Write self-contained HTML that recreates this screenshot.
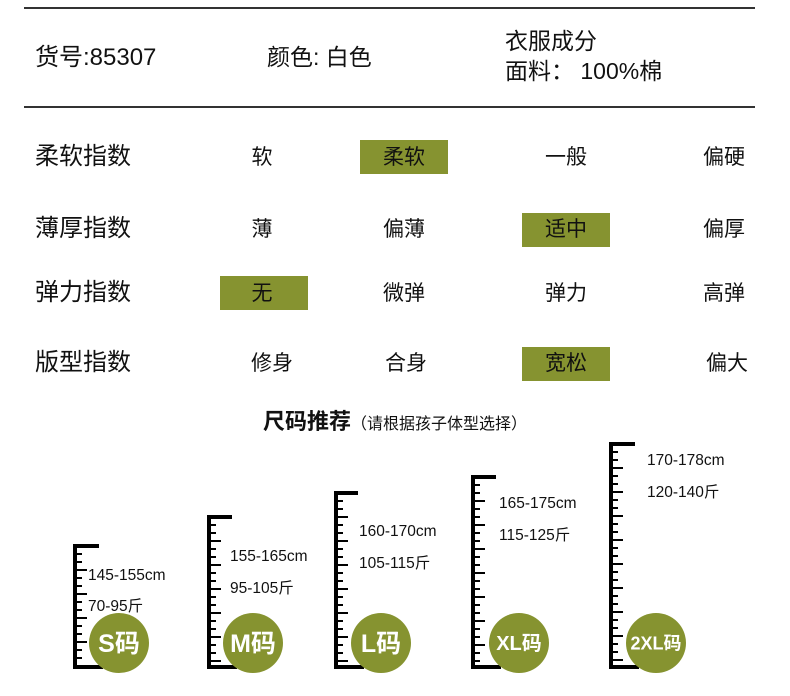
<!DOCTYPE html>
<html><head><meta charset="utf-8"><style>
body{margin:0;width:790px;height:696px;background:#fff;position:relative;overflow:hidden;font-family:"Liberation Sans","Noto Sans CJK SC",sans-serif;color:#111}
.t{position:absolute;white-space:nowrap;line-height:1}
.hl{position:absolute;width:88px;height:34px;background:#869330}
.c{transform:translateX(-50%)}
.line{position:absolute;left:24px;width:731px;height:2px;background:#333}
</style></head><body>
<div class="line" style="top:7px"></div>
<div class="line" style="top:106px"></div>
<div class="t" style="left:35px;top:46px;font-size:24px">货号:85307</div>
<div class="t" style="left:267px;top:46px;font-size:23px">颜色: 白色</div>
<div class="t" style="left:505px;top:30px;font-size:23px">衣服成分</div>
<div class="t" style="left:505px;top:60px;font-size:23px">面料： 100%棉</div>

<div class="hl" style="left:360px;top:140px"></div>
<div class="hl" style="left:522px;top:213px"></div>
<div class="hl" style="left:220px;top:276px"></div>
<div class="hl" style="left:522px;top:347px"></div>

<div class="t" style="left:35px;top:145px;font-size:24px">柔软指数</div>
<div class="t c" style="left:262px;top:147px;font-size:21px">软</div>
<div class="t c" style="left:404px;top:147px;font-size:21px">柔软</div>
<div class="t c" style="left:566px;top:147px;font-size:21px">一般</div>
<div class="t c" style="left:724px;top:147px;font-size:21px">偏硬</div>

<div class="t" style="left:35px;top:217px;font-size:24px">薄厚指数</div>
<div class="t c" style="left:262px;top:219px;font-size:21px">薄</div>
<div class="t c" style="left:404px;top:219px;font-size:21px">偏薄</div>
<div class="t c" style="left:566px;top:219px;font-size:21px">适中</div>
<div class="t c" style="left:724px;top:219px;font-size:21px">偏厚</div>

<div class="t" style="left:35px;top:281px;font-size:24px">弹力指数</div>
<div class="t c" style="left:262px;top:283px;font-size:21px">无</div>
<div class="t c" style="left:404px;top:283px;font-size:21px">微弹</div>
<div class="t c" style="left:566px;top:283px;font-size:21px">弹力</div>
<div class="t c" style="left:724px;top:283px;font-size:21px">高弹</div>

<div class="t" style="left:35px;top:351px;font-size:24px">版型指数</div>
<div class="t c" style="left:272px;top:353px;font-size:21px">修身</div>
<div class="t c" style="left:406px;top:353px;font-size:21px">合身</div>
<div class="t c" style="left:566px;top:353px;font-size:21px">宽松</div>
<div class="t c" style="left:727px;top:353px;font-size:21px">偏大</div>

<div class="t" style="left:263px;top:411px;font-size:22px;font-weight:bold">尺码推荐<span style="font-size:16px;font-weight:normal">（请根据孩子体型选择）</span></div>

<svg width="790" height="696" style="position:absolute;left:0;top:0" xmlns="http://www.w3.org/2000/svg" font-family="Liberation Sans, Noto Sans CJK SC, sans-serif">
</svg>
<script>
var R=[[73,546,99,119,"S码"],[207,517,232,253,"M码"],[334,493,358,381,"L码"],[471,477,496,519,"XL码"],[609,444,635,656,"2XL码"]];
var T=[["145-155cm","70-95斤",575,606,88],["155-165cm","95-105斤",556,588,230],["160-170cm","105-115斤",531,563,359],["165-175cm","115-125斤",503,535,499],["170-178cm","120-140斤",460,492,647]];
var s='';
R.forEach(function(r,i){
 var x=r[0],top=r[1],bot=667;
 s+='<path d="M'+(r[2])+' '+top+'H'+(x+2)+'V'+bot+'H'+(x+30)+'" stroke="#000" stroke-width="4" fill="none"/>';
 var k=0;
 for(var y=top+8;y<bot-3;y+=8){k++;var L=(k%3==0)?14:9;s+='<line x1="'+x+'" y1="'+y+'" x2="'+(x+L)+'" y2="'+y+'" stroke="#000" stroke-width="2"/>';}
 s+='<circle cx="'+r[3]+'" cy="643" r="30" fill="#869330"/>';
 var fs=r[4].length>3?18:(r[4].length>2?20:25);
 s+='<text x="'+r[3]+'" y="'+(643+fs*0.36)+'" text-anchor="middle" font-size="'+fs+'" font-weight="bold" fill="#fff">'+r[4]+'</text>';
 var t=T[i];
 s+='<text x="'+t[4]+'" y="'+(t[2]+5)+'" font-size="15.5" fill="#111">'+t[0]+'</text>';
 s+='<text x="'+t[4]+'" y="'+(t[3]+5)+'" font-size="15.5" fill="#111">'+t[1]+'</text>';
});
document.querySelector('svg').innerHTML+=s;
</script>
</body></html>
